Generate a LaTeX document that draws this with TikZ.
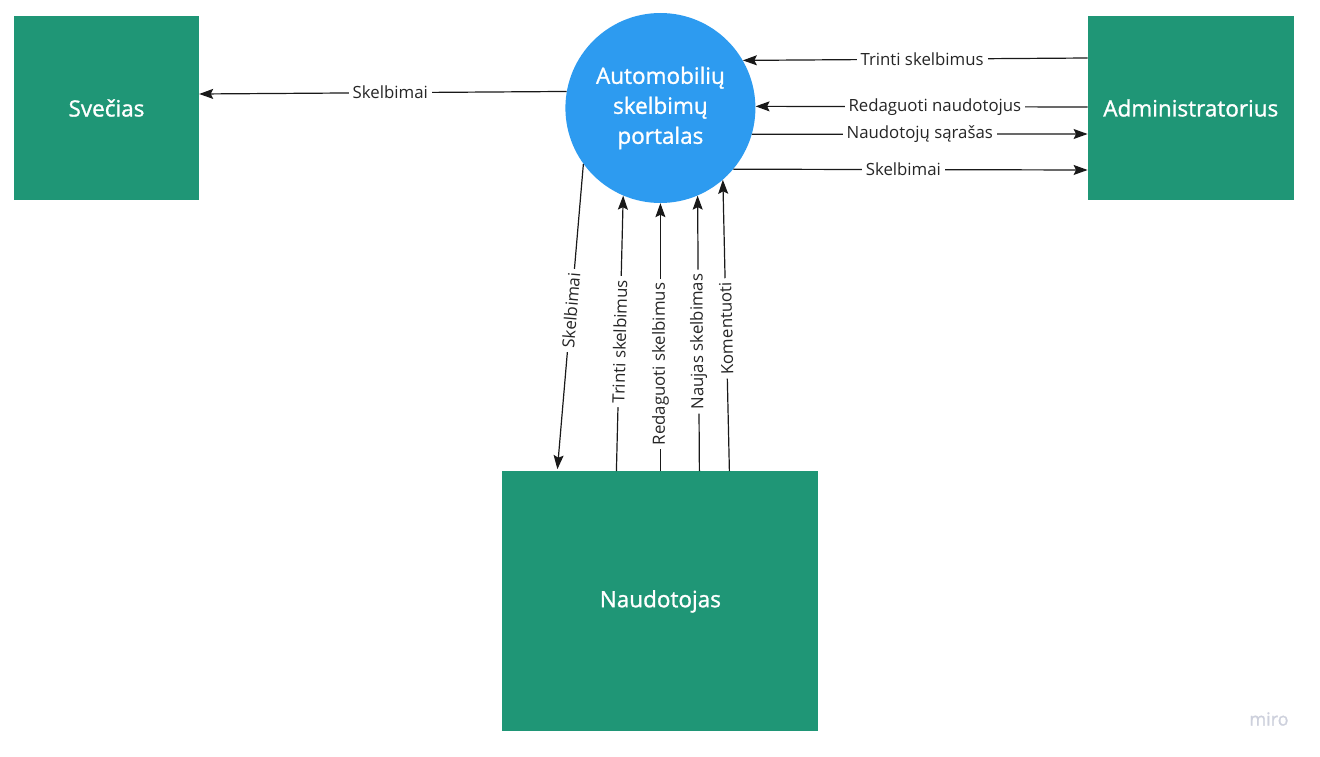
\documentclass[tikz,border=0pt]{standalone}
\usepackage{fontspec}
\setmainfont{Open Sans}
\newfontfamily\semibold[FakeBold=1.2]{Open Sans}
\usetikzlibrary{positioning, arrows.meta, shapes}
\definecolor{entgreen}{RGB}{31,150,118}
\definecolor{procblue}{RGB}{45,155,240}
\definecolor{mirogray}{RGB}{205,208,220}

\begin{document}
\begin{tikzpicture}
        [
            x=1pt, y=-1pt,
            entity/.style 2 args={rectangle, fill=entgreen, text=white,
                          minimum width=#1, minimum height=#2, inner sep=0pt,
                          font=\semibold\fontsize{22.5}{24}\selectfont},
            process/.style={circle, fill=procblue, text=white, minimum size=190pt,
                          inner sep=0pt, align=center,
                          font=\semibold\fontsize{22.5}{30}\selectfont},
            flow/.style={-{Stealth[length=14pt,width=10pt,inset=2.5pt]}, line width=1.2pt, draw=black!90},
            lbl/.style={fill=white, inner xsep=4pt, inner ysep=1pt, text=black!85,
                          font=\fontsize{16.8}{18}\selectfont}
        ]
        \useasboundingbox (0,0) rectangle (1320,757);
        \node (guest) [entity={185pt}{184pt}] at (106.5,108) {Svečias};
        \node (portal) [process, right=366pt of guest] {Automobilių\\skelbimų\\portalas};
        \node (admin) [entity={206pt}{184pt}, right=332pt of portal] {Administratorius};
        \node (user) [entity={316pt}{260pt}, below=268pt of portal] {Naudotojas};
        \draw [flow] (portal.170) -- node[lbl, pos=0.48] {Skelbimai} ([yshift=14pt]guest.east);
        \draw [flow] ([yshift=50pt]admin.west) -- node[lbl, pos=0.48] {Trinti skelbimus} (portal.30);
        \draw [flow] ([yshift=1pt]admin.west) -- node[lbl, pos=0.46] {Redaguoti naudotojus} (portal.1);
        \draw [flow] (portal.-16) -- node[lbl, pos=0.5] {Naudotojų sąrašas} ([yshift=-26pt]admin.west);
        \draw [flow] (portal.-40) -- node[lbl, pos=0.48] {Skelbimai} ([yshift=-62pt]admin.west);
        \draw [flow] (portal.216) -- node[lbl, sloped, pos=0.48] {Skelbimai} ([xshift=-103pt, yshift=2pt]user.north);
        \foreach \dx/\ang/\txt/\p in {-44/247/Trinti skelbimus/0.47, 0/270/Redaguoti skelbimus/0.4,
                                   39/293/Naujas skelbimas/0.47, 69/311/Komentuoti/0.49}
            \draw [flow] ([xshift=\dx pt]user.north) -- node[lbl, sloped, allow upside down, pos=\p] {\txt} (portal.\ang);
        \node (wm) [text=mirogray, font=\semibold\fontsize{18}{20}\selectfont] at (1269,719) {miro};
    \end{tikzpicture}
\end{document}
